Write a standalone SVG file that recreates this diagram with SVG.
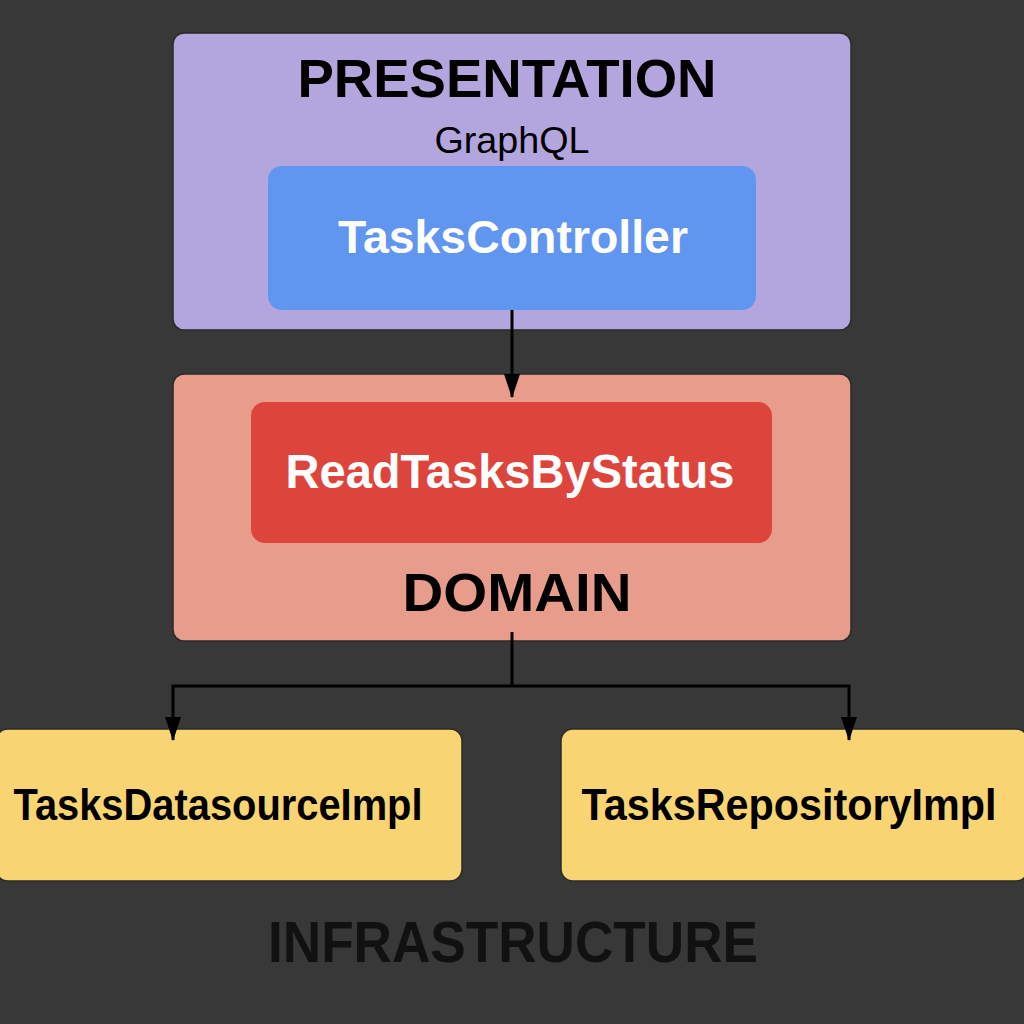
<svg xmlns="http://www.w3.org/2000/svg" width="1024" height="1024" viewBox="0 0 1024 1024">
<defs>
<style>
.t{font-family:"Liberation Sans",Arial,sans-serif;font-weight:bold;text-anchor:middle}
.layer{stroke:#2a2a2a;stroke-width:1.5}
.conn{stroke:#000;stroke-width:3;fill:none}
</style>
<marker id="ah" viewBox="0 0 24 16" refX="23" refY="8" markerWidth="24" markerHeight="16" markerUnits="userSpaceOnUse" orient="auto">
<path d="M0,0 L24,8 L0,16 Z" fill="#000"/>
</marker>
</defs>
<rect width="1024" height="1024" fill="#383838"/>
<g id="presentation">
<rect class="layer" x="173" y="33" width="678" height="297" rx="11" fill="#b3a5de"/>
<text class="t" x="507" y="97" font-size="54" fill="#000" textLength="419" lengthAdjust="spacingAndGlyphs">PRESENTATION</text>
<text class="t" x="512" y="153" font-size="36" style="font-weight:normal" fill="#000" textLength="155" lengthAdjust="spacingAndGlyphs">GraphQL</text>
</g>
<g id="tasks-controller">
<rect x="268" y="166" width="488" height="144" rx="14" fill="#6096ef"/>
<text class="t" x="513" y="253" font-size="46" fill="#fff" textLength="350" lengthAdjust="spacingAndGlyphs">TasksController</text>
</g>
<g id="domain">
<rect class="layer" x="173" y="374" width="678" height="267" rx="11" fill="#e89c8c"/>
<text class="t" x="517" y="611" font-size="54" fill="#000" textLength="229" lengthAdjust="spacingAndGlyphs">DOMAIN</text>
</g>
<g id="read-tasks-by-status">
<rect x="251" y="402" width="521" height="141" rx="14" fill="#dd453c"/>
<text class="t" x="510" y="488" font-size="48" fill="#fff" textLength="449" lengthAdjust="spacingAndGlyphs">ReadTasksByStatus</text>
</g>
<g id="tasks-datasource-impl">
<rect class="layer" x="-4" y="729" width="466" height="152" rx="12" fill="#f8d472"/>
<text class="t" x="218" y="820" font-size="44" fill="#000" textLength="409" lengthAdjust="spacingAndGlyphs">TasksDatasourceImpl</text>
</g>
<g id="tasks-repository-impl">
<rect class="layer" x="561" y="729" width="467" height="152" rx="12" fill="#f8d472"/>
<text class="t" x="789" y="820" font-size="44" fill="#000" textLength="415" lengthAdjust="spacingAndGlyphs">TasksRepositoryImpl</text>
</g>
<g id="infrastructure">
<text class="t" x="513" y="962" font-size="58" fill="#111" textLength="490" lengthAdjust="spacingAndGlyphs">INFRASTRUCTURE</text>
</g>
<g id="connectors">
<path class="conn" d="M512,310 L512,397" marker-end="url(#ah)"/>
<path class="conn" d="M512,632 L512,686"/>
<path class="conn" d="M512,686 L173,686 L173,740" marker-end="url(#ah)"/>
<path class="conn" d="M512,686 L849,686 L849,740" marker-end="url(#ah)"/>
</g>
</svg>
